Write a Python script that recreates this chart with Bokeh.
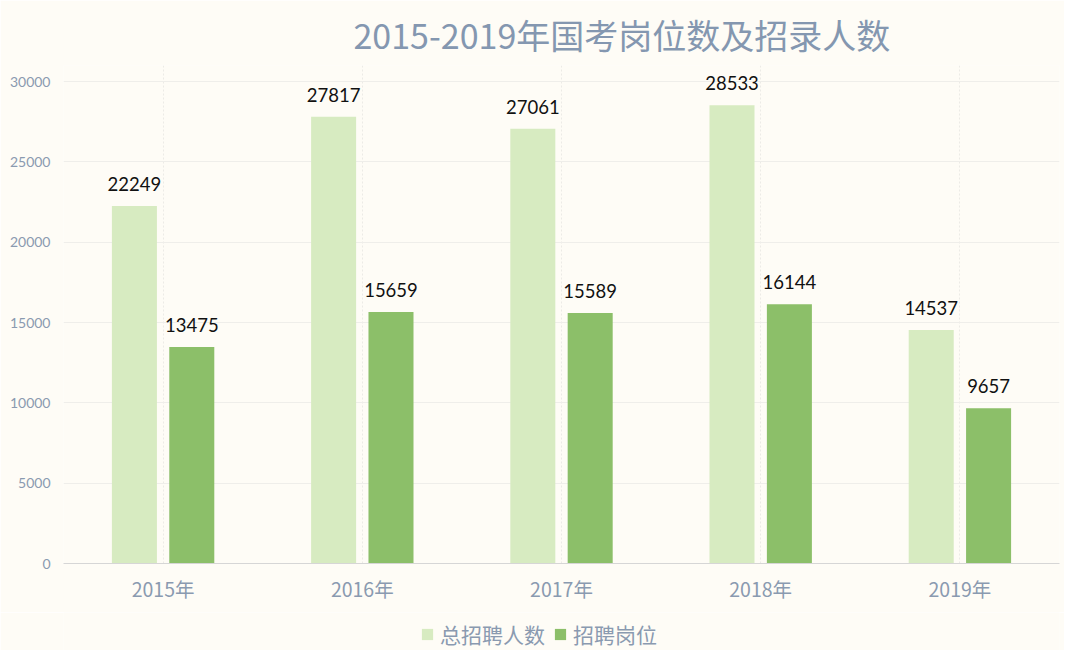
from bokeh.plotting import figure
from bokeh.layouts import column
from bokeh.models import ColumnDataSource, FactorRange, Range1d, Legend, LegendItem, Title, FixedTicker, NumeralTickFormatter
from bokeh.transform import dodge
from bokeh.embed import file_html
from bokeh.resources import INLINE
from bokeh.core.properties import value

years = ["2015年", "2016年", "2017年", "2018年", "2019年"]
total_hires = [22249, 27817, 27061, 28533, 14537]
positions = [13475, 15659, 15589, 16144, 9657]
series_names = ["总招聘人数", "招聘岗位"]
title_text = "2015-2019年国考岗位数及招录人数"

BG = "#FEFCF6"
LIGHT = "#D7EBC1"
DARK = "#8CBF69"
AXIS_TXT = "#8A9AB0"
CJK = "Noto Sans CJK SC"
NUM = "Lato"

src = ColumnDataSource(dict(
    year=years, total=total_hires, pos=positions,
    total_lbl=[str(v) for v in total_hires], pos_lbl=[str(v) for v in positions],
))

p = figure(x_range=FactorRange(*years), y_range=Range1d(0, 31000),
           width=1064, height=612, output_backend="svg", toolbar_location=None,
           background_fill_color=BG, border_fill_color=BG,
           min_border_left=63, min_border_right=5, min_border_top=61, min_border_bottom=49)
p.outline_line_color = None

r1 = p.vbar(x=dodge("year", -0.144, range=p.x_range), top="total", width=0.226,
            source=src, color=LIGHT, line_color=None)
r2 = p.vbar(x=dodge("year", 0.144, range=p.x_range), top="pos", width=0.226,
            source=src, color=DARK, line_color=None)

p.text(x=dodge("year", -0.144, range=p.x_range), y="total", text="total_lbl", source=src,
       text_align="center", text_baseline="bottom", y_offset=-15,
       text_font=value(NUM), text_font_size="18.5px", text_color="#111111")
p.text(x=dodge("year", 0.144, range=p.x_range), y="pos", text="pos_lbl", source=src,
       text_align="center", text_baseline="bottom", y_offset=-15,
       text_font=value(NUM), text_font_size="18.5px", text_color="#111111")

p.yaxis.ticker = FixedTicker(ticks=[0, 5000, 10000, 15000, 20000, 25000, 30000])
p.yaxis.formatter = NumeralTickFormatter(format="0")
p.yaxis.axis_line_color = None
p.yaxis.major_tick_line_color = None
p.yaxis.minor_tick_line_color = None
p.yaxis.major_label_text_font = NUM
p.yaxis.major_label_text_font_size = "14px"
p.yaxis.major_label_text_color = AXIS_TXT
p.yaxis.major_label_standoff = 7

p.xaxis.axis_line_color = "#D6D6D6"
p.xaxis.major_tick_line_color = None
p.xaxis.minor_tick_line_color = None
p.xaxis.major_label_text_font = CJK
p.xaxis.major_label_text_font_size = "19.5px"
p.xaxis.major_label_text_color = AXIS_TXT
p.xaxis.major_label_standoff = 4

p.ygrid.grid_line_color = "#EFEEEA"
p.ygrid.ticker = FixedTicker(ticks=[5000, 10000, 15000, 20000, 25000, 30000])
p.xgrid.grid_line_color = "#ECEBE6"
p.xgrid.grid_line_dash = "2 2"

t = Title(text=title_text, align="left", offset=290, text_font=CJK, text_font_size="34px",
          text_font_style="normal", text_color="#8497B0", standoff=14, text_line_height=1.0)
p.add_layout(t, "above")

# legend strip below the chart
leg_fig = figure(width=1064, height=38, output_backend="svg", toolbar_location=None,
                 x_axis_type=None, y_axis_type=None, x_range=Range1d(0, 1), y_range=Range1d(0, 1),
                 background_fill_color=BG, border_fill_color=BG,
                 min_border_left=0, min_border_right=0, min_border_top=0, min_border_bottom=0)
leg_fig.outline_line_color = None
leg_fig.grid.visible = False
d1 = leg_fig.vbar(x=[0.5], top=[0], bottom=[0], width=0.1, color=LIGHT, line_color=None)
d2 = leg_fig.vbar(x=[0.5], top=[0], bottom=[0], width=0.1, color=DARK, line_color=None)
legend = Legend(items=[LegendItem(label=series_names[0], renderers=[d1]),
                       LegendItem(label=series_names[1], renderers=[d2])],
                orientation="horizontal", location=(357, 1),
                background_fill_alpha=0, border_line_color=None,
                label_text_font=CJK, label_text_font_size="21px", label_text_color=AXIS_TXT,
                glyph_width=14, glyph_height=14, spacing=8, label_standoff=6, padding=0, margin=0)
leg_fig.add_layout(legend, "center")

layout = column(p, leg_fig, spacing=0)
open("out.html", "w").write(file_html(layout, INLINE))
